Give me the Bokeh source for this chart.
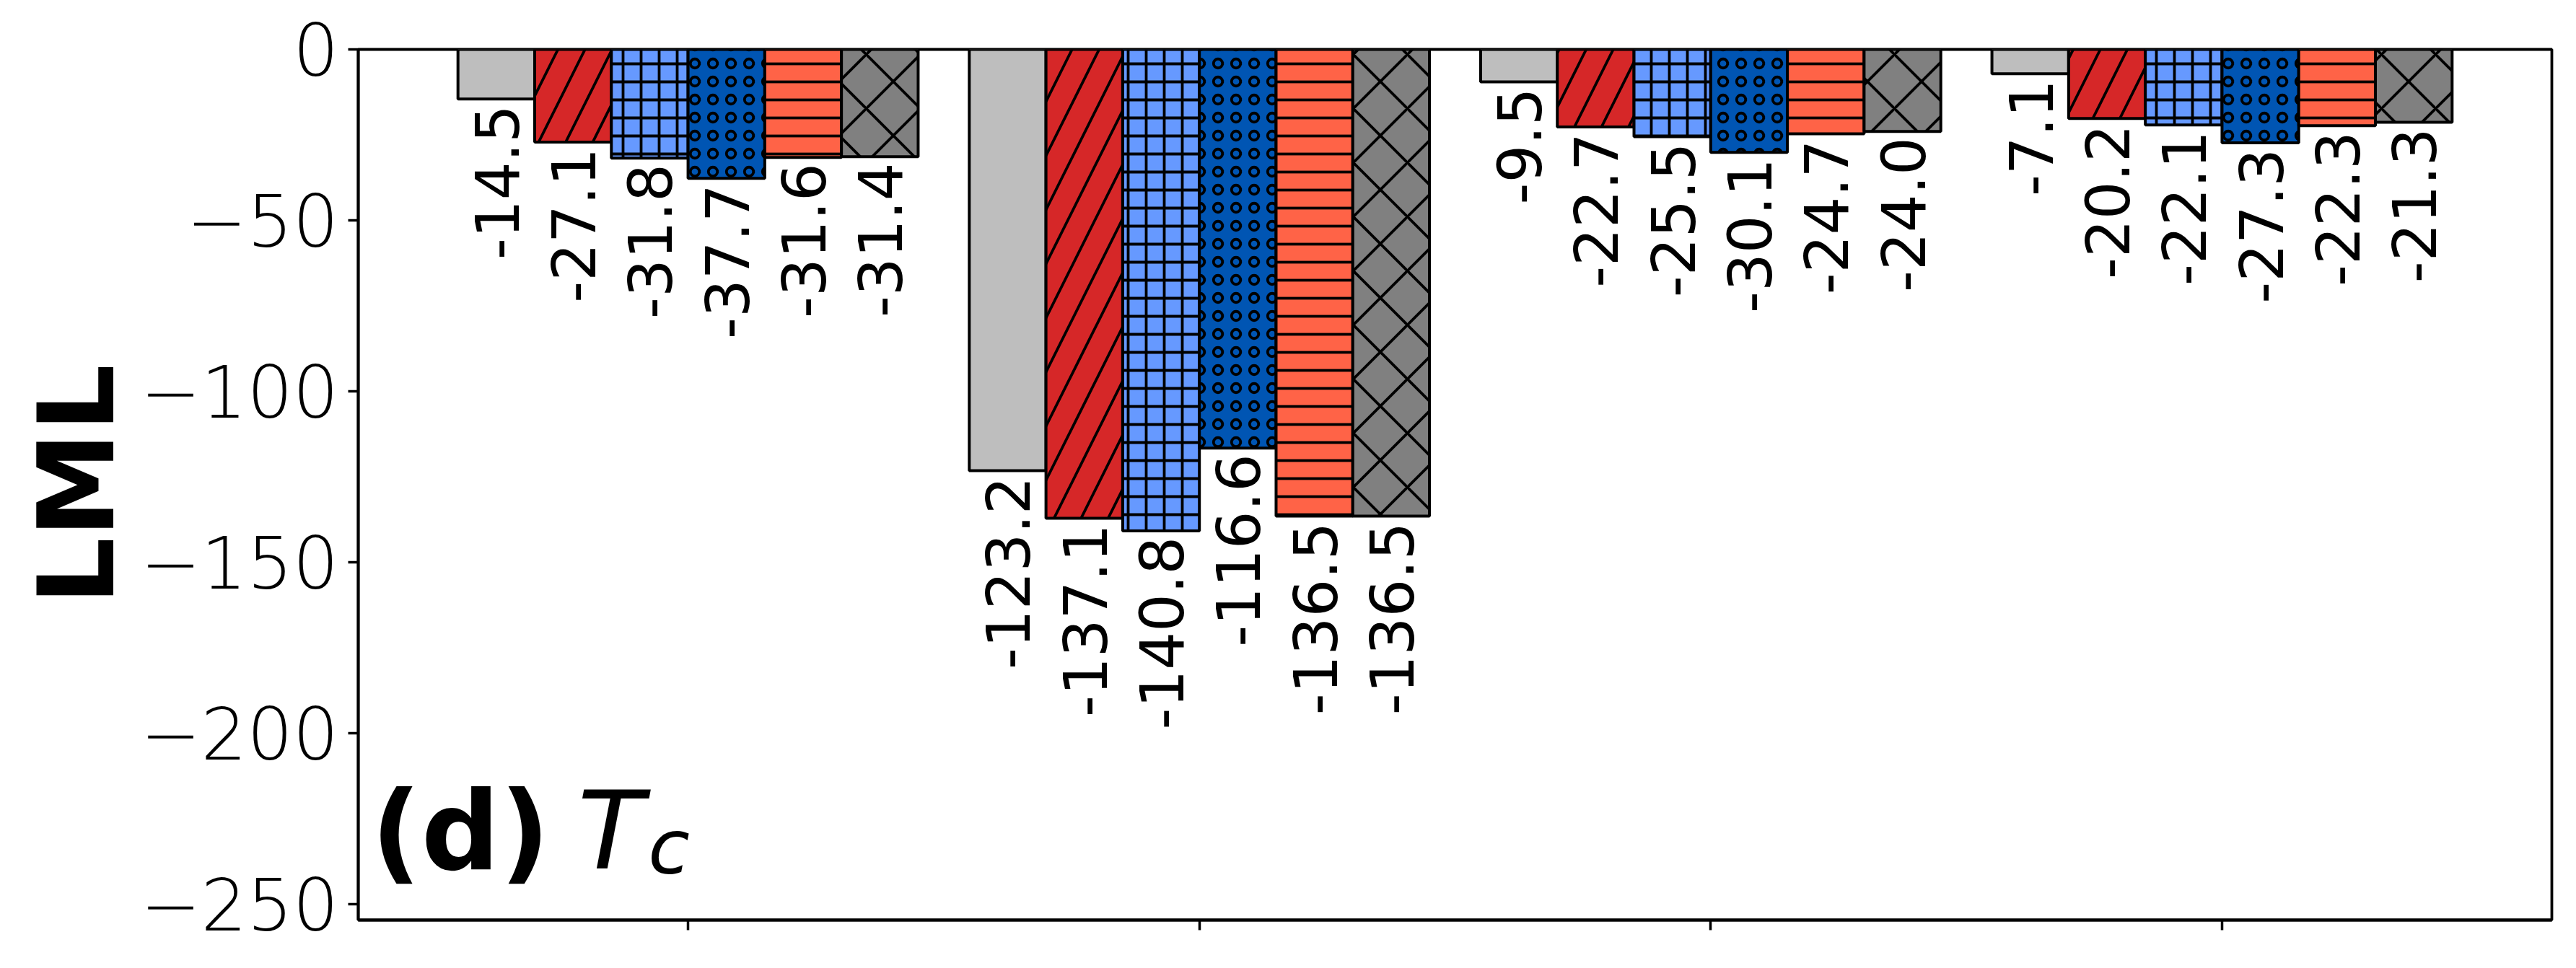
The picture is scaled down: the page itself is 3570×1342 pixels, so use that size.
import math
from bokeh.plotting import figure
from bokeh.models import ColumnDataSource, FixedTicker, Range1d, Label
from bokeh.embed import file_html
from bokeh.resources import INLINE

# ---- data ----
groups = ["G1", "G2", "G3", "G4"]
series_names = ["S1", "S2", "S3", "S4", "S5", "S6"]
s1 = [-14.5, -123.2, -9.5, -7.1]
s2 = [-27.1, -137.1, -22.7, -20.2]
s3 = [-31.8, -140.8, -25.5, -22.1]
s4 = [-37.7, -116.6, -30.1, -27.3]
s5 = [-31.6, -136.5, -24.7, -22.3]
s6 = [-31.4, -136.5, -24.0, -21.3]
y_ticks = [0, -50, -100, -150, -200, -250]
y_tick_labels = ["0", "\u221250", "\u2212100", "\u2212150", "\u2212200", "\u2212250"]
x_tick_labels = ["", "", "", ""]

series = [s1, s2, s3, s4, s5, s6]
colors = ["#BEBEBE", "#D62728", "#6699FF", "#0055B3", "#FF6347", "#808080"]
hatches = [" ", "/", "+", "o", "-", "x"]
hatch_scales = [25, 75, 25, 25, 25, 75]

W, H = 3570, 1342
FONT = "DejaVu Sans"

p = figure(width=W, height=H, output_backend="svg", toolbar_location=None,
           x_range=Range1d(-0.645, 3.645), y_range=Range1d(-254.6, 0))
p.min_border_left = 496
p.min_border_right = 34
p.min_border_top = 68
p.min_border_bottom = 67
p.background_fill_color = "white"
p.border_fill_color = "white"
p.xgrid.grid_line_color = None
p.ygrid.grid_line_color = None
p.outline_line_color = "black"
p.outline_line_width = 3.8

bar_w = 0.15
n = len(series)
for j, vals in enumerate(series):
    xs = [i + (j - (n - 1) / 2) * bar_w for i in range(len(groups))]
    src = ColumnDataSource(dict(x=xs, v=vals, z=[0] * len(vals),
                                lab=[f"{v:.1f}" for v in vals]))
    kw = dict(x="x", top="z", bottom="v", width=bar_w, source=src,
              fill_color=colors[j], line_color="black", line_width=4)
    if hatches[j] != " ":
        kw.update(hatch_pattern=hatches[j], hatch_color="black",
                  hatch_weight=3.8, hatch_scale=hatch_scales[j])
    p.vbar(**kw)
    p.text(x="x", y="v", text="lab", source=src, angle=math.pi / 2,
           text_align="right", text_baseline="middle", y_offset=8,
           text_font_size="83px", text_color="black",
           text_font={"value": FONT})

# axes
p.yaxis.ticker = FixedTicker(ticks=y_ticks)
p.yaxis.major_label_overrides = {t: l for t, l in zip(y_ticks, y_tick_labels)}
p.xaxis.ticker = FixedTicker(ticks=list(range(len(groups))))
p.xaxis.major_label_overrides = {i: l for i, l in enumerate(x_tick_labels)}
for ax in (p.xaxis, p.yaxis):
    ax.axis_line_color = "black"
    ax.axis_line_width = 3.8
    ax.major_tick_line_color = "black"
    ax.major_tick_line_width = 3.5
    ax.major_tick_out = 14
    ax.major_tick_in = 0
    ax.minor_tick_line_color = None
    ax.major_label_text_font = FONT
    ax.major_label_text_font_size = "100px"
    ax.major_label_text_color = "black"
p.yaxis.major_label_standoff = 13
p.yaxis.axis_label = "LML"
p.yaxis.axis_label_text_font = FONT
p.yaxis.axis_label_text_font_style = "bold"
p.yaxis.axis_label_text_font_size = "147px"
p.yaxis.axis_label_text_color = "black"
p.yaxis.axis_label_standoff = 0

# panel annotation
p.add_layout(Label(x=-0.62, y=-228.6, text="(d)", text_font=FONT,
                   text_font_style="bold", text_font_size="152px",
                   text_baseline="alphabetic", text_color="black"))
p.add_layout(Label(x=-0.216, y=-228.6, text="T", text_font=FONT,
                   text_font_style="italic", text_font_size="150px",
                   text_baseline="alphabetic", text_color="black"))
p.add_layout(Label(x=-0.078, y=-233.4, text="c", text_font=FONT,
                   text_font_style="italic", text_font_size="105px",
                   text_baseline="alphabetic", text_color="black"))

open("out.html", "w").write(file_html(p, INLINE))
